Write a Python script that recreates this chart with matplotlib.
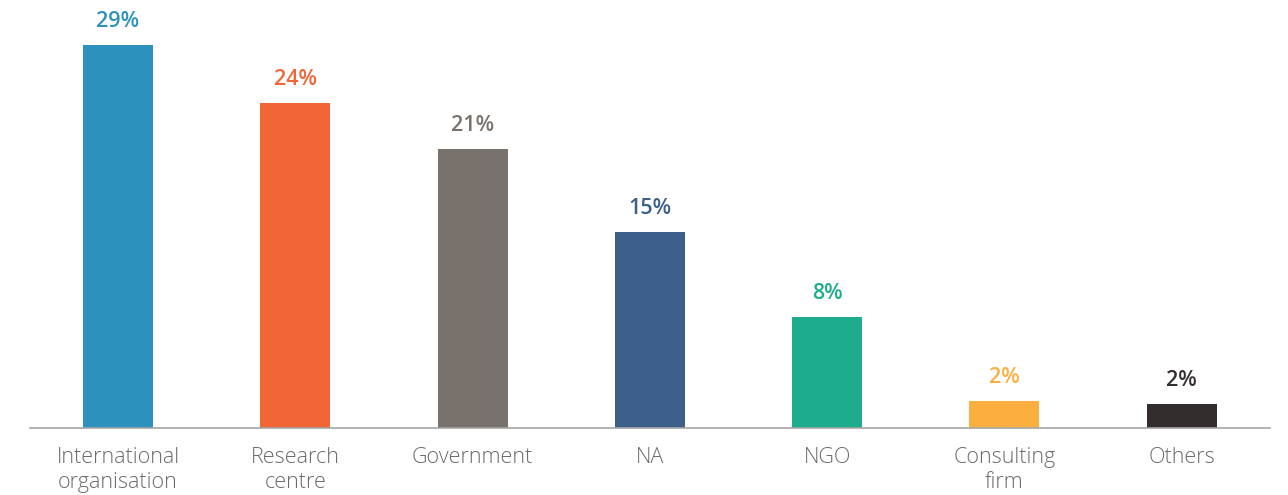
import matplotlib.pyplot as plt
import numpy as np

categories = ['International\norganisation', 'Research\ncentre', 'Government', 'NA',
              'NGO', 'Consulting\nfirm', 'Others']
values = [29.0, 24.6, 21.1, 14.8, 8.4, 2.05, 1.8]
labels = ['29%', '24%', '21%', '15%', '8%', '2%', '2%']
colors = ['#2D91BE', '#F26535', '#78716C', '#3D608A', '#1EAC8E', '#FBAF3F', '#332E2E']

fig = plt.figure(figsize=(12.88, 4.95), dpi=100)
ax = fig.add_axes([30 / 1288, 67 / 495, 1240 / 1288, 428 / 495])

x = np.arange(len(categories))
ax.bar(x, values, width=0.395, color=colors)

for xi, v, lab, c in zip(x, values, labels, colors):
    ax.annotate(lab, (xi, v), xytext=(0, 17), textcoords='offset points',
                ha='center', va='center', fontsize=15.5, fontweight='semibold',
                color=c, family='Open Sans')

ax.set_xlim(-0.496, 6.498)
ax.set_ylim(0, 32.4)
ax.set_xticks(x)
ax.set_xticklabels(categories, fontsize=15.5, color='#6B6B6B', family='Open Sans',
                   fontweight='light', linespacing=1.2, va='top')
ax.tick_params(axis='x', length=0, pad=14)
ax.set_yticks([])
for s in ['top', 'right', 'left']:
    ax.spines[s].set_visible(False)
ax.spines['bottom'].set_color('#A6A6A6')
ax.spines['bottom'].set_linewidth(1.2)

fig.savefig('out.png', dpi=100)
